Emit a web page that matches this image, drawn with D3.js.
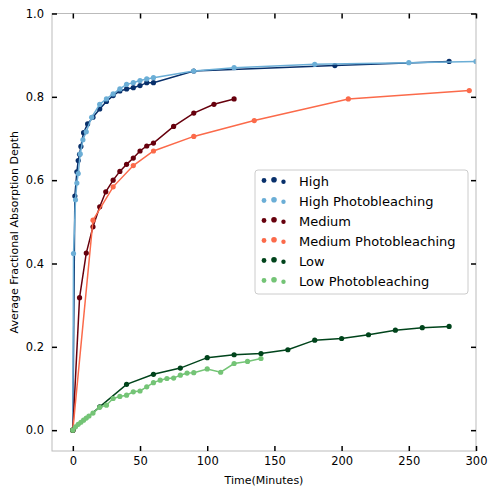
<!DOCTYPE html>
<html><head><meta charset="utf-8">
<script src="https://cdn.jsdelivr.net/npm/d3@7"></script>
<style>body{margin:0;background:#fff}svg{display:block}text{font-family:"DejaVu Sans",sans-serif}</style>
</head><body><svg id="c" width="489" height="487"></svg>
<script>
const seriesNames = ["High","High Photobleaching","Medium","Medium Photobleaching","Low","Low Photobleaching"];
const seriesColors = ["#08306b","#6baed6","#67000d","#fb6a4a","#00441b","#74c476"];
const highT = [0,1.5,3,4,5,6,8,11,15,20,25,30,35,40,45,50,55,60,90,195,280];
const highV = [0,0.562,0.62,0.647,0.662,0.681,0.714,0.735,0.751,0.771,0.789,0.803,0.814,0.819,0.822,0.827,0.834,0.834,0.862,0.875,0.885];
const highPbT = [0,0.5,2,3,4,5.5,7.5,10,14,20,25,30,35,40,45,50,55,60,90,120,180,250,300];
const highPbV = [0,0.424,0.553,0.593,0.616,0.663,0.697,0.716,0.751,0.782,0.795,0.807,0.819,0.830,0.834,0.839,0.843,0.846,0.862,0.870,0.878,0.882,0.885];
const medT = [0,5,10,15,20,24.5,30,35,40,45,50,55,60,75,90,105,120];
const medV = [0,0.318,0.425,0.488,0.536,0.572,0.600,0.621,0.638,0.653,0.670,0.682,0.689,0.729,0.761,0.782,0.795];
const medPbT = [0,15,30,45,60,90,135,205,295];
const medPbV = [0,0.504,0.584,0.635,0.670,0.705,0.743,0.795,0.815];
const lowT = [0,20,40,60,80,100,120,140,160,180,200,220,240,260,280];
const lowV = [0,0.056,0.110,0.134,0.149,0.174,0.181,0.184,0.193,0.216,0.220,0.229,0.240,0.246,0.249];
const lowPbT = [0,2,4,6,8,10,12,15,20,25,30,35,40,45,50,55,60,65,70,75,80,85,90,100,110,120,130,140];
const lowPbV = [0,0.008,0.014,0.019,0.024,0.029,0.034,0.041,0.055,0.060,0.076,0.081,0.084,0.092,0.094,0.104,0.114,0.120,0.124,0.125,0.132,0.137,0.138,0.147,0.139,0.160,0.165,0.172];
const xTicks = [0,50,100,150,200,250,300];
const yTicks = [0,0.2,0.4,0.6,0.8,1.0];
const xLabel = "Time(Minutes)";
const yLabel = "Average Fractional Absorption Depth";

const allT = [highT,highPbT,medT,medPbT,lowT,lowPbT];
const allV = [highV,highPbV,medV,medPbV,lowV,lowPbV];
const series = seriesNames.map((n,i)=>({name:n,color:seriesColors[i],pts:allT[i].map((t,j)=>({t,v:allV[i][j]}))}));

const L=52,R=476,T=13.5,B=451;
const x=d3.scaleLinear().domain([-15.5,300]).range([L,R]);
const y=d3.scaleLinear().domain([-0.05,1.0]).range([B,T]);
const svg=d3.select("#c");
svg.append("defs").append("clipPath").attr("id","clip").append("rect").attr("x",L).attr("y",T).attr("width",R-L).attr("height",B-T);

const g=svg.append("g").attr("clip-path","url(#clip)");
const line=d3.line().x(d=>x(d.t)).y(d=>y(d.v));
series.forEach(s=>{
  g.append("path").attr("d",line(s.pts)).attr("fill","none").attr("stroke",s.color).attr("stroke-width",1.5);
  g.selectAll(null).data(s.pts).enter().append("circle").attr("cx",d=>x(d.t)).attr("cy",d=>y(d.v)).attr("r",2.6).attr("fill",s.color);
});

// spines
svg.append("rect").attr("x",L).attr("y",T).attr("width",R-L).attr("height",B-T).attr("fill","none").attr("stroke","#bbbbbb").attr("stroke-width",1);

// axes with inward ticks
const xb=svg.append("g").attr("transform",`translate(0,${B})`).call(d3.axisBottom(x).tickValues(xTicks).tickSize(-5).tickPadding(6).tickFormat(d3.format("d")));
const xt=svg.append("g").attr("transform",`translate(0,${T})`).call(d3.axisTop(x).tickValues(xTicks).tickSize(-5).tickFormat(""));
const yl=svg.append("g").attr("transform",`translate(${L},0)`).call(d3.axisLeft(y).tickValues(yTicks).tickSize(-5).tickPadding(8).tickFormat(d3.format(".1f")));
const yr=svg.append("g").attr("transform",`translate(${R},0)`).call(d3.axisRight(y).tickValues(yTicks).tickSize(-5).tickFormat(""));
[xb,xt,yl,yr].forEach(a=>{a.select(".domain").remove();a.selectAll(".tick line").attr("stroke","#000").attr("stroke-width",1.5);a.selectAll("text").attr("font-size",11.5).attr("fill","#000").style("font-family","DejaVu Sans");});

svg.append("text").attr("x",(L+R)/2).attr("y",484).attr("text-anchor","middle").attr("font-size",11).text(xLabel);
svg.append("text").attr("transform",`translate(18,${(T+B)/2}) rotate(-90)`).attr("text-anchor","middle").attr("font-size",11).text(yLabel);

// legend
const lg=svg.append("g");
lg.append("rect").attr("x",255).attr("y",170).attr("width",213).attr("height",124).attr("rx",3).attr("fill","#fff").attr("stroke","#cccccc");
const dx=[264,274,283.5], dy=[-0.5,-1.2,0.8], dr=[2.4,2.8,2.2];
series.forEach((s,i)=>{
  const cy=181+i*20;
  dx.forEach((px,k)=>lg.append("circle").attr("cx",px).attr("cy",cy+dy[k]).attr("r",dr[k]).attr("fill",s.color));
  lg.append("text").attr("x",299).attr("y",cy).attr("dy","0.35em").attr("font-size",13).text(s.name);
});
</script></body></html>
